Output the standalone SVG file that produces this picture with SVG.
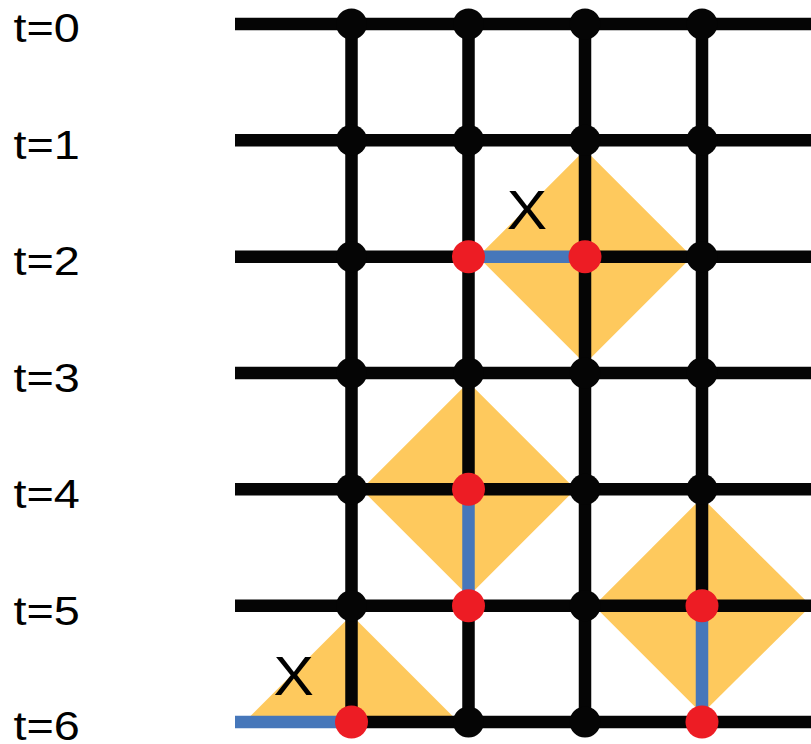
<svg xmlns="http://www.w3.org/2000/svg" width="811" height="744" viewBox="0 0 811 744">
<style>
.bg{fill:#ffffff}
.area{fill:#FEC95D;stroke:none}
.ln{stroke:#050505;stroke-width:12.5;fill:none}
.bl{stroke:#4677BA;stroke-width:12.5;fill:none}
.k{fill:#050505}
.r{fill:#ED1C24}
.tl{font-family:"Liberation Sans",Arial,sans-serif;font-size:40px;fill:#000}
.xl{font-family:"Liberation Sans",Arial,sans-serif;font-size:56px;fill:#000;text-anchor:middle}
</style>
<rect class="bg" x="0" y="0" width="811" height="744"/>
<g id="areas">
<polygon class="area" points="478,256.7 585,149.7 692,256.7 585,363.7"/>
<polygon class="area" points="361.5,489.3 468.5,382.3 575.5,489.3 468.5,596.3"/>
<polygon class="area" points="594,605.7 702,497.7 811,605.7 702,713.7"/>
<polygon class="area" points="244.5,722 351.5,615 458.5,722"/>
</g>
<g id="connectors">
<line class="ln" x1="235" y1="24" x2="811" y2="24"/>
<line class="ln" x1="235" y1="140.3" x2="811" y2="140.3"/>
<line class="ln" x1="235" y1="256.7" x2="468.5" y2="256.7"/>
<line class="bl" x1="468.5" y1="256.7" x2="585" y2="256.7"/>
<line class="ln" x1="585" y1="256.7" x2="811" y2="256.7"/>
<line class="ln" x1="235" y1="373" x2="811" y2="373"/>
<line class="ln" x1="235" y1="489.3" x2="811" y2="489.3"/>
<line class="ln" x1="235" y1="605.7" x2="811" y2="605.7"/>
<line class="bl" x1="235" y1="722" x2="351.5" y2="722"/>
<line class="ln" x1="351.5" y1="722" x2="811" y2="722"/>
<line class="ln" x1="351.5" y1="24" x2="351.5" y2="722"/>
<line class="ln" x1="468.5" y1="24" x2="468.5" y2="489.3"/>
<line class="bl" x1="468.5" y1="489.3" x2="468.5" y2="605.7"/>
<line class="ln" x1="468.5" y1="605.7" x2="468.5" y2="722"/>
<line class="ln" x1="585" y1="24" x2="585" y2="722"/>
<line class="ln" x1="702" y1="24" x2="702" y2="605.7"/>
<line class="bl" x1="702" y1="605.7" x2="702" y2="722"/>
</g>
<g id="row0"><circle class="k" cx="351.5" cy="24" r="15.5"/><circle class="k" cx="468.5" cy="24" r="15.5"/><circle class="k" cx="585" cy="24" r="15.5"/><circle class="k" cx="702" cy="24" r="15.5"/></g>
<g id="row1"><circle class="k" cx="351.5" cy="140.3" r="15.5"/><circle class="k" cx="468.5" cy="140.3" r="15.5"/><circle class="k" cx="585" cy="140.3" r="15.5"/><circle class="k" cx="702" cy="140.3" r="15.5"/></g>
<g id="row2"><circle class="k" cx="351.5" cy="256.7" r="15.5"/><circle class="r" cx="468.5" cy="256.7" r="16.5"/><circle class="r" cx="585" cy="256.7" r="16.5"/><circle class="k" cx="702" cy="256.7" r="15.5"/></g>
<g id="row3"><circle class="k" cx="351.5" cy="373" r="15.5"/><circle class="k" cx="468.5" cy="373" r="15.5"/><circle class="k" cx="585" cy="373" r="15.5"/><circle class="k" cx="702" cy="373" r="15.5"/></g>
<g id="row4"><circle class="k" cx="351.5" cy="489.3" r="15.5"/><circle class="r" cx="468.5" cy="489.3" r="16.5"/><circle class="k" cx="585" cy="489.3" r="15.5"/><circle class="k" cx="702" cy="489.3" r="15.5"/></g>
<g id="row5"><circle class="k" cx="351.5" cy="605.7" r="15.5"/><circle class="r" cx="468.5" cy="605.7" r="16.5"/><circle class="k" cx="585" cy="605.7" r="15.5"/><circle class="r" cx="702" cy="605.7" r="16.5"/></g>
<g id="row6"><circle class="r" cx="351.5" cy="722" r="16.5"/><circle class="k" cx="468.5" cy="722" r="15.5"/><circle class="k" cx="585" cy="722" r="15.5"/><circle class="r" cx="702" cy="722" r="16.5"/></g>
<g id="labels">
<g transform="scale(1.17,1)">
<text class="tl" x="11.5" y="42">t=0</text>
<text class="tl" x="11.5" y="158.6">t=1</text>
<text class="tl" x="11.5" y="275.2">t=2</text>
<text class="tl" x="11.5" y="391.8">t=3</text>
<text class="tl" x="11.5" y="508.4">t=4</text>
<text class="tl" x="11.5" y="625">t=5</text>
<text class="tl" x="11.5" y="740.5">t=6</text>
</g>
<g transform="scale(1.08,1)">
<text class="xl" x="488" y="229.5">X</text>
<text class="xl" x="272" y="695.5">X</text>
</g>
</g>
</svg>
